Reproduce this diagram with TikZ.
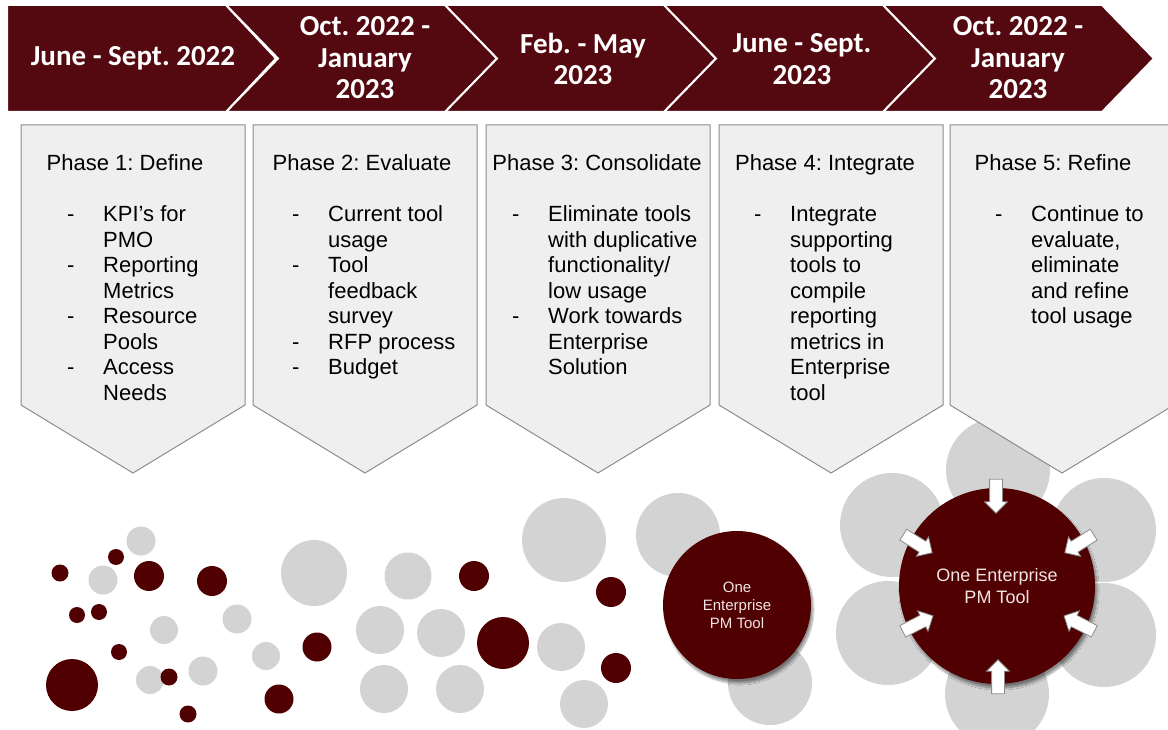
\documentclass[tikz,border=0pt]{standalone}
\usepackage{fontspec}
\setmainfont{Liberation Sans}
\newfontfamily\chevfont{Carlito}
\usetikzlibrary{shapes.arrows,shadows.blur}
\definecolor{maroon}{RGB}{84,8,15}
\definecolor{dotred}{RGB}{80,0,0}
\definecolor{dotgrey}{RGB}{211,211,211}
\definecolor{boxgrey}{RGB}{239,239,239}
\definecolor{edgegrey}{RGB}{140,140,140}
\definecolor{pale}{RGB}{242,228,228}
\frenchspacing
\tikzset{
  chevron/.style={fill=maroon,draw=white,line width=2pt},
  datetext/.style={text=white,inner sep=0pt,align=center,
    font=\chevfont\bfseries\fontsize{29}{31.5}\selectfont},
  phasebox/.style={fill=boxgrey,draw=edgegrey,line width=1pt},
  phasetitle/.style={inner sep=0pt,anchor=base,font=\fontsize{22}{25.5}\selectfont},
  phaselist/.style={inner sep=0pt,anchor=base west,font=\fontsize{22}{25.5}\selectfont},
  tooldot/.style={circle,fill=dotred,text=pale,align=center,inner sep=0pt,
    blur shadow={shadow xshift=2pt,shadow yshift=-4pt,shadow blur steps=12,shadow opacity=45}},
  inarrow/.style={single arrow,draw=edgegrey,fill=white,line width=0.8pt,
    inner xsep=0pt,inner ysep=6pt,minimum height=34pt,single arrow head extend=5pt}
}
\newcommand\dashlist[1]{\begin{tabular}[t]{@{}p{36pt}@{}l@{}}#1\end{tabular}}
\begin{document}
\begin{tikzpicture}[x=1pt,y=-1pt]
\useasboundingbox (0,0) rectangle (1168,730);
\clip (0,0) rectangle (1168,730);

\foreach \x/\y/\r in {141/541/14.5,103/580/14.5,164/630/14,237/619/14.5,150/680/14,
    203/671/14.5,266/656/14,314/573/33,408/576/23.5,380/630/24,441/633/24,384/689/24,
    460/689/24,564/540/42,561/647/24,584/704/24,678/535/42,770/683/42,
    998/470/52,892/525/52,1104/530/52,888/633/52,1104/635/52,997/694/52}
  \fill[dotgrey] (\x,\y) circle[radius=\r pt];
\foreach \x/\y/\r in {60/573/8.5,116/557/8,149/576/15,212/581/15,77/615/8,99/612/8,
    119/652/8,72/685/26,169/677/8.5,188/714/8.5,317/647/14.5,279/699/14.5,
    474/576/15,503/643/26,611/592/15,616/668/15}
  \fill[dotred] (\x,\y) circle[radius=\r pt];

\node[tooldot,minimum size=148pt,font=\fontsize{15}{18}\selectfont] (tool) at (737,605)
  {One\\Enterprise\\PM Tool};
\node[tooldot,minimum size=196pt,font=\fontsize{18}{22}\selectfont] (onetool) at (997,586)
  {One Enterprise\\PM Tool};
\foreach \x/\y/\a [count=\i] in {996/493/-90,998/680/90,915/542/-32,
    1082/542/-148,915/625/27,1082/625/153}
  \node[inarrow,rotate=\a] (arrow\i) at (\x,\y) {};

\foreach \l in {21,253,486,719,950}
  \draw[phasebox] (\l,125) -- (\l+224,125) -- (\l+224,405) -- (\l+112,473)
    -- (\l,405) -- cycle;

\node[phasetitle] (phase1) at (125,171) {Phase 1: Define};
\node[phasetitle] (phase2) at (362,171) {Phase 2: Evaluate};
\node[phasetitle] (phase3) at (597,171) {Phase 3: Consolidate};
\node[phasetitle] (phase4) at (825,171) {Phase 4: Integrate};
\node[phasetitle] (phase5) at (1053,171) {Phase 5: Refine};

\node[phaselist] (list1) at (67,222) {\dashlist{-&KPI’s for\\&PMO\\-&Reporting\\&Metrics\\
  -&Resource\\&Pools\\-&Access\\&Needs}};
\node[phaselist] (list2) at (292,222) {\dashlist{-&Current tool\\&usage\\-&Tool\\
  &feedback\\&survey\\-&RFP process\\-&Budget}};
\node[phaselist] (list3) at (512,222) {\dashlist{-&Eliminate tools\\&with duplicative\\
  &functionality/\\&low usage\\-&Work towards\\&Enterprise\\&Solution}};
\node[phaselist] (list4) at (754,222) {\dashlist{-&Integrate\\&supporting\\&tools to\\
  &compile\\&reporting\\&metrics in\\&Enterprise\\&tool}};
\node[phaselist] (list5) at (995,222) {\dashlist{-&Continue to\\&evaluate,\\&eliminate\\
  &and refine\\&tool usage}};

\draw[chevron] (7,5) -- (226,5) -- (276,58.5) -- (226,112) -- (7,112) -- cycle;
\foreach \l in {226,445,664,883}
  \draw[chevron] (\l,5) -- (\l+219,5) -- (\l+271,58.5) -- (\l+219,112) -- (\l,112)
    -- (\l+52,58.5) -- cycle;

\node[datetext] (date1) at (133,58) {June - Sept. 2022};
\node[datetext] (date2) at (365,58) {Oct. 2022 -\\January\\2023};
\node[datetext] (date3) at (583,59) {Feb. - May\\2023};
\node[datetext] (date4) at (802,59) {June - Sept.\\2023};
\node[datetext] (date5) at (1018,58) {Oct. 2022 -\\January\\2023};
\end{tikzpicture}
\end{document}
